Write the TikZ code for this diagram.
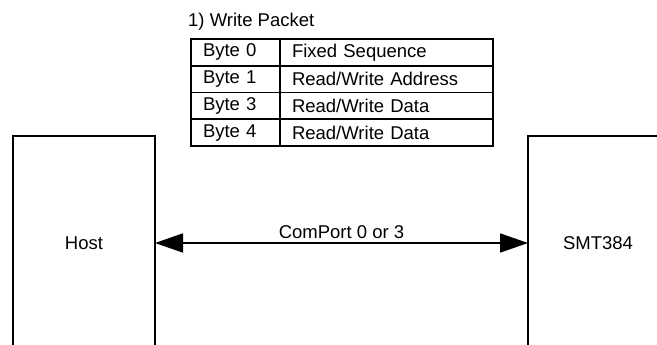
\documentclass[tikz,border=0pt]{standalone}
\usepackage{fontspec}
\setmainfont{Liberation Sans}
\usepackage{tikz}
\usetikzlibrary{positioning,arrows.meta}
\tikzstyle{arrow} = [line width=1.8pt,{Triangle[length=28pt,width=19pt]}-{Triangle[length=28pt,width=19pt]}]
\tikzstyle{cell} = [draw, line width=1.8pt, rectangle, outer sep=0pt, inner xsep=12pt, minimum height=26.75pt, align=left, font=\fontsize{18.5}{21}\selectfont]
\tikzstyle{block} = [rectangle, outer sep=0pt, minimum width=142pt, minimum height=214pt, font=\fontsize{18.5}{21}\selectfont]

\begin{document}
\begin{tikzpicture}[x=1pt, y=-1pt]
        \clip (0,0) rectangle (657,345);
        \fill[white] (0,0) rectangle (657,345);

        \node (b0) [cell, anchor=north west, text width=65pt] at (191,39) {Byte 0};
        \node (f0) [cell, right=0pt of b0, text width=189pt] {Fixed Sequence};
        \node (b1) [cell, below=0pt of b0, text width=65pt] {Byte 1};
        \node (f1) [cell, right=0pt of b1, text width=189pt] {Read/Write Address};
        \node (b3) [cell, below=0pt of b1, text width=65pt] {Byte 3};
        \node (f3) [cell, right=0pt of b3, text width=189pt] {Read/Write Data};
        \node (b4) [cell, below=0pt of b3, text width=65pt] {Byte 4};
        \node (f4) [cell, right=0pt of b4, text width=189pt] {Read/Write Data};
        \node (title) [anchor=base west, font=\fontsize{18.5}{21}\selectfont, inner sep=0pt] at ([xshift=-3pt,yshift=12pt]b0.north west) {1) Write Packet};

        \node (host) [block] at (84,243) {Host};
        \node (smt) [block, minimum width=140pt] at (598,243) {SMT384};

        \draw[line width=1.8pt] (host.south west) -- (host.north west) -- (host.north east) -- (host.south east);
        \draw[line width=1.8pt] (smt.south west) -- (smt.north west) -- (smt.north east);

        \draw [arrow] (host.east) -- node[midway, above, font=\fontsize{18.5}{21}\selectfont] {ComPort 0 or 3} (smt.west);

    \end{tikzpicture}
\end{document}
